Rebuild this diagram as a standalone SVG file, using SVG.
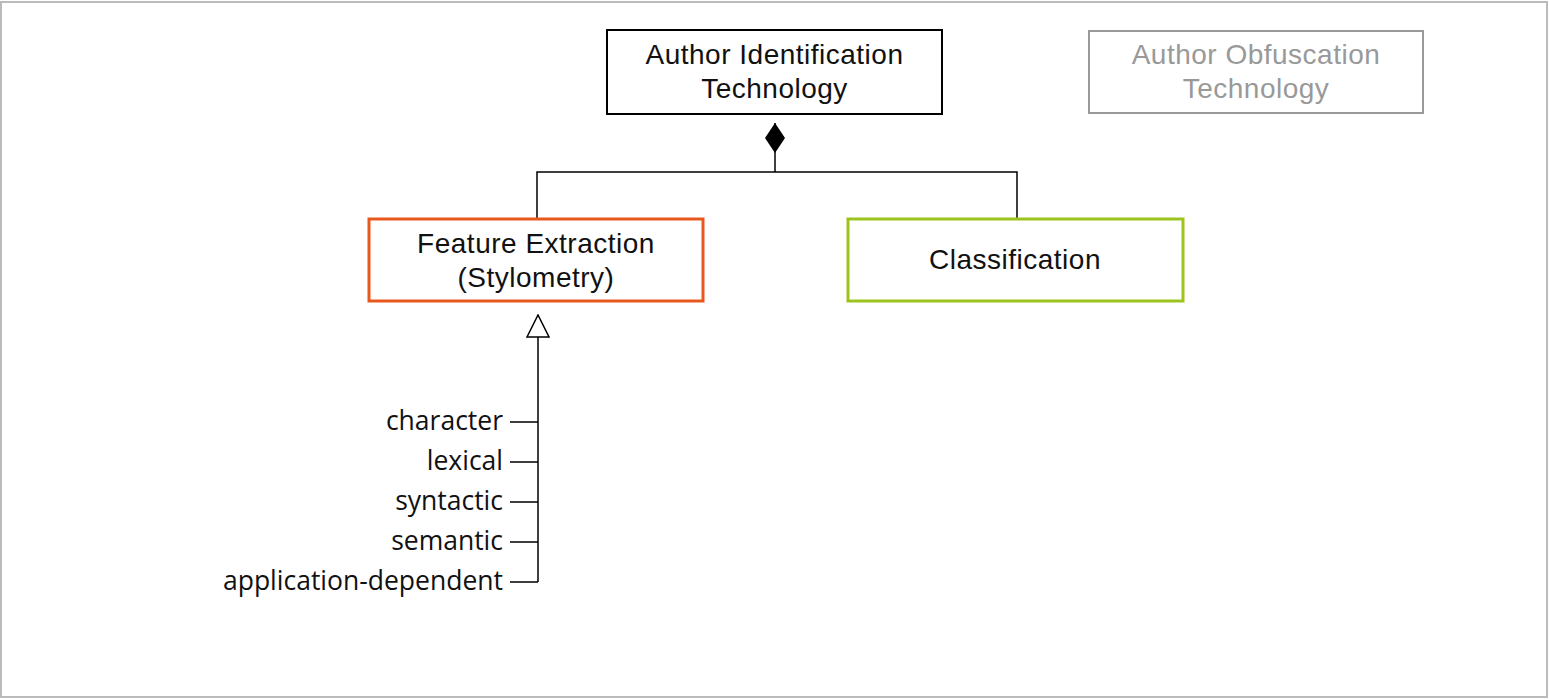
<svg xmlns="http://www.w3.org/2000/svg" width="1549" height="699" viewBox="0 0 1549 699">
  <style>
    .box { fill: #ffffff; stroke-width: 2; }
    .title { font-family: "Liberation Sans", Arial, sans-serif; font-size: 28px; letter-spacing: 0.5px; text-anchor: middle; fill: #111111; }
    .muted { fill: #999999; }
    .feat { font-family: "Open Sans", "Noto Sans", sans-serif; font-size: 26.5px; text-anchor: end; fill: #111111; }
    .wire { fill: none; stroke: #000000; stroke-width: 1.5; }
  </style>
  <defs>
    <marker id="diamond" viewBox="0 0 30 20" refX="30" refY="10" markerWidth="30" markerHeight="20" markerUnits="userSpaceOnUse" orient="auto">
      <path d="M0,10 L15,0 L30,10 L15,20 Z" fill="#000000"/>
    </marker>
    <marker id="hollow" viewBox="0 0 24 24" refX="23" refY="12" markerWidth="24" markerHeight="24" markerUnits="userSpaceOnUse" orient="auto">
      <path d="M1,1 L23,12 L1,23 Z" fill="#ffffff" stroke="#000000" stroke-width="1.5"/>
    </marker>
  </defs>

  <!-- frame -->
  <rect x="1" y="2" width="1546" height="695" fill="#ffffff" stroke="#bbbbbb" stroke-width="2"/>

  <!-- connectors -->
  <g id="connectors">
    <path class="wire" d="M537,219 V172 H1017 V219"/>
    <path class="wire" d="M775,172 V123" marker-end="url(#diamond)"/>
    <path class="wire" d="M538,582 V315" marker-end="url(#hollow)"/>
    <path class="wire" d="M510,422 H538 M510,462 H538 M510,502 H538 M510,542 H538 M510,582 H538"/>
  </g>

  <g id="author-identification">
    <rect class="box" x="607" y="30" width="335" height="84" stroke="#000000"/>
    <text class="title" x="774.5" y="64">Author Identification</text>
    <text class="title" x="774.5" y="98">Technology</text>
  </g>

  <g id="author-obfuscation">
    <rect class="box" x="1089" y="31" width="334" height="82" stroke="#999999"/>
    <text class="title muted" x="1256" y="64">Author Obfuscation</text>
    <text class="title muted" x="1256" y="98">Technology</text>
  </g>

  <g id="feature-extraction">
    <rect class="box" x="369" y="219" width="334" height="82" stroke="#e8581c" style="stroke-width:3"/>
    <text class="title" x="536" y="253">Feature Extraction</text>
    <text class="title" x="536" y="287">(Stylometry)</text>
  </g>

  <g id="classification">
    <rect class="box" x="848" y="219" width="335" height="82" stroke="#9dc41d" style="stroke-width:3"/>
    <text class="title" x="1015" y="269">Classification</text>
  </g>

  <g id="feature-types">
    <text class="feat" x="503" y="430">character</text>
    <text class="feat" x="503" y="470">lexical</text>
    <text class="feat" x="503" y="510">syntactic</text>
    <text class="feat" x="503" y="550">semantic</text>
    <text class="feat" x="503" y="590">application-dependent</text>
  </g>
</svg>
